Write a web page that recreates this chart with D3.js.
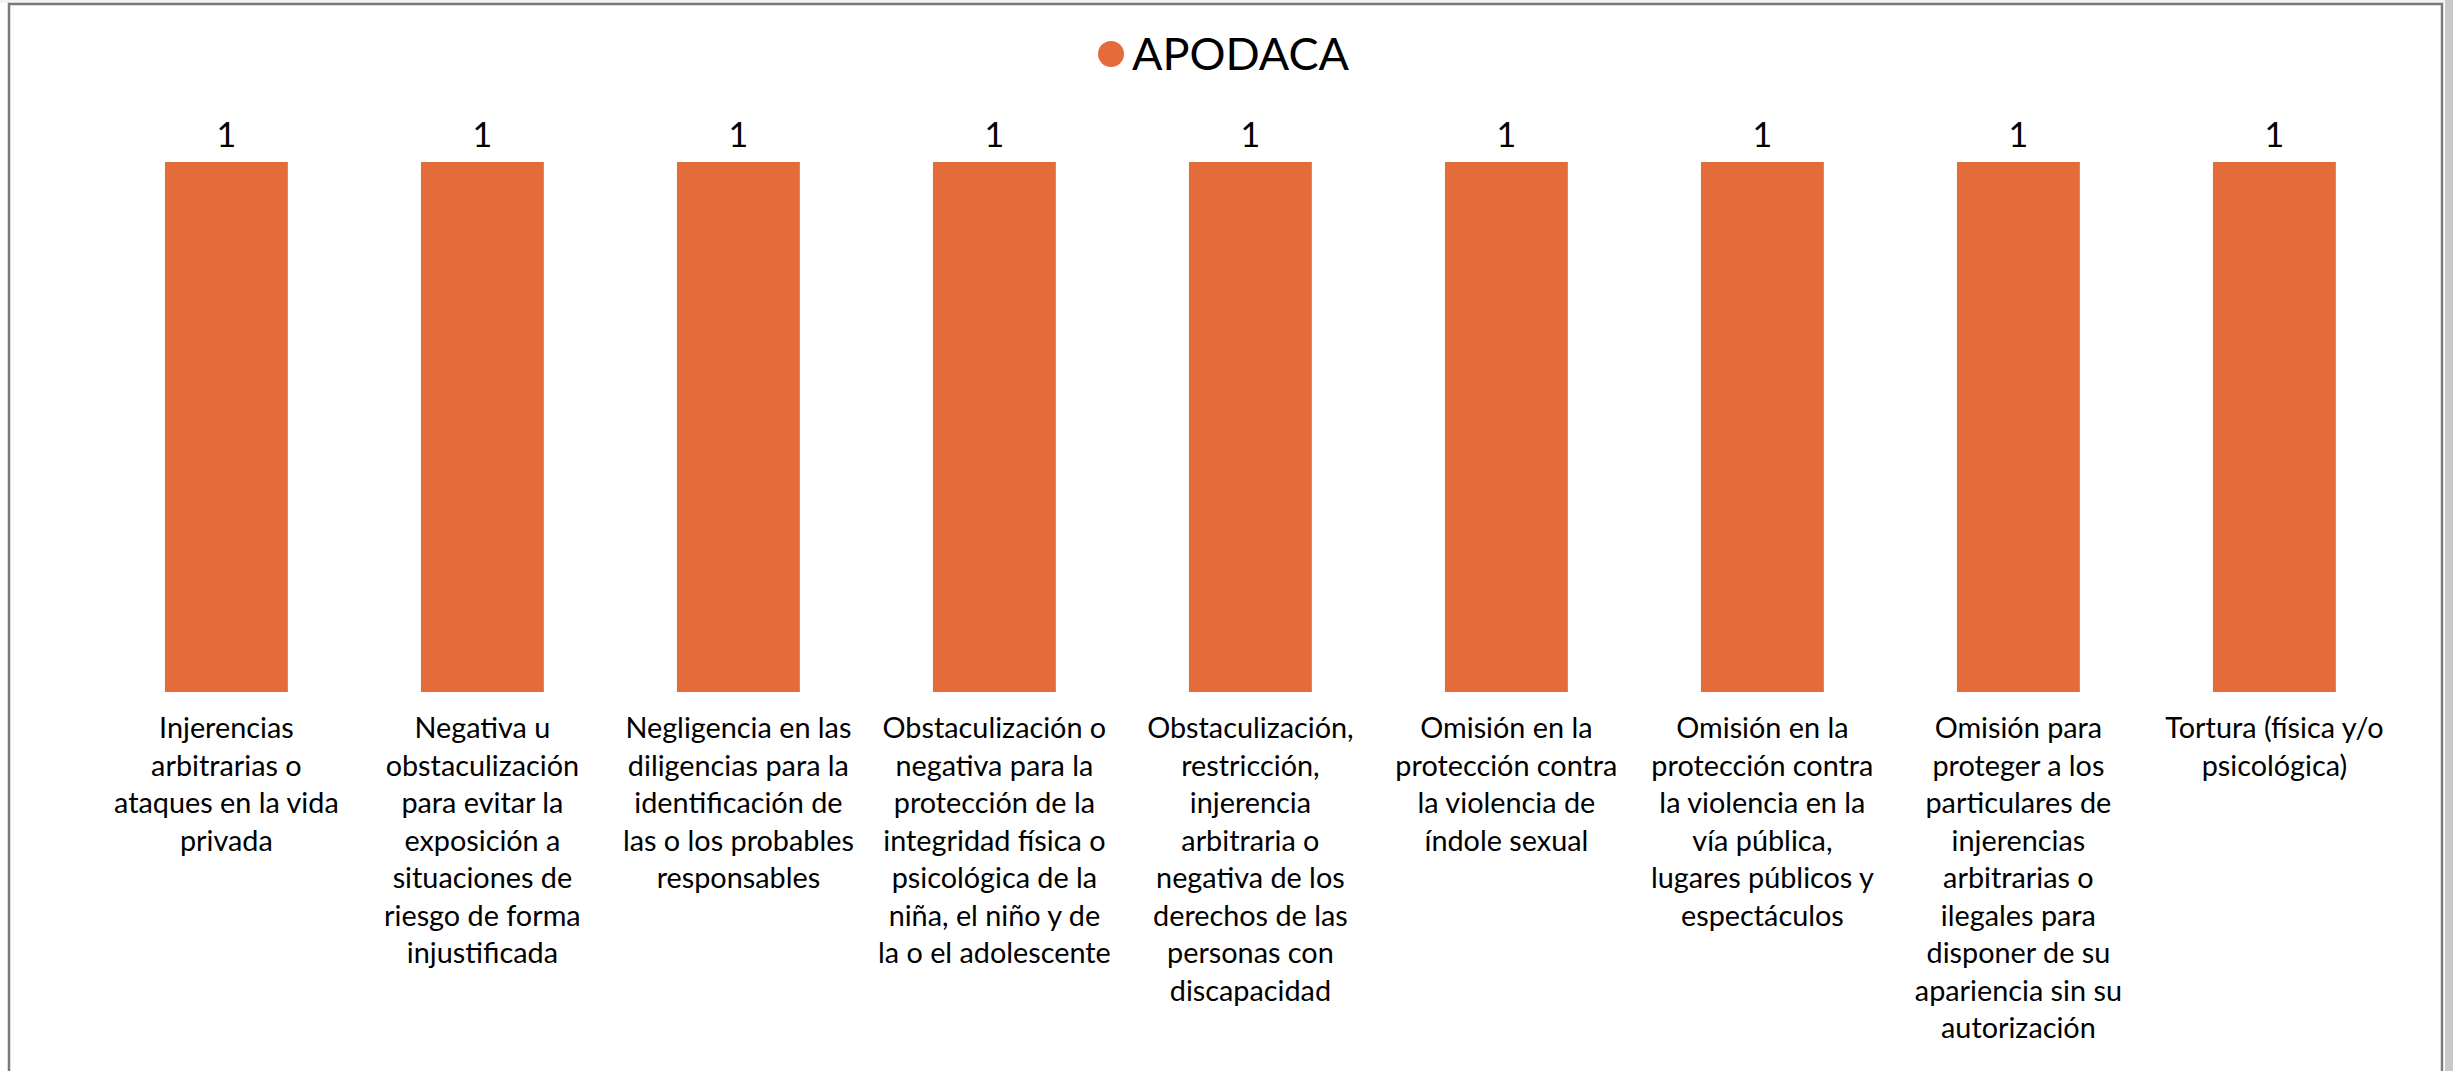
<!DOCTYPE html>
<html>
<head>
<meta charset="utf-8">
<script src="https://cdn.jsdelivr.net/npm/d3@7"></script>
<style>
  html, body { margin: 0; padding: 0; background: #fff; overflow: hidden; }
  svg { display: block; }
</style>
</head>
<body>
<svg id="chart" width="2453" height="1071"></svg>
<script>
const seriesName = "APODACA";
const categories = [
  "Injerencias\narbitrarias o\nataques en la vida\nprivada",
  "Negativa u\nobstaculización\npara evitar la\nexposición a\nsituaciones de\nriesgo de forma\ninjustificada",
  "Negligencia en las\ndiligencias para la\nidentificación de\nlas o los probables\nresponsables",
  "Obstaculización o\nnegativa para la\nprotección de la\nintegridad física o\npsicológica de la\nniña, el niño y de\nla o el adolescente",
  "Obstaculización,\nrestricción,\ninjerencia\narbitraria o\nnegativa de los\nderechos de las\npersonas con\ndiscapacidad",
  "Omisión en la\nprotección contra\nla violencia de\níndole sexual",
  "Omisión en la\nprotección contra\nla violencia en la\nvía pública,\nlugares públicos y\nespectáculos",
  "Omisión para\nproteger a los\nparticulares de\ninjerencias\narbitrarias o\nilegales para\ndisponer de su\napariencia sin su\nautorización",
  "Tortura (física y/o\npsicológica)"
];
const values = [1, 1, 1, 1, 1, 1, 1, 1, 1];
const barColor = "#E46C3A";

const svg = d3.select("#chart");
const W = 2453, H = 1071;
const font = "Lato, 'Open Sans', sans-serif";

// frame
svg.append("rect").attr("x", 2445).attr("y", 0).attr("width", 8).attr("height", H).attr("fill", "#c9c9c9");
svg.append("rect").attr("x", 0).attr("y", 0).attr("width", 2445).attr("height", 3).attr("fill", "#f3f3f3");
svg.append("rect").attr("x", 9).attr("y", 4).attr("width", 2433).attr("height", H + 20)
  .attr("fill", "#fff").attr("stroke", "#7a7a7a").attr("stroke-width", 2.5);

const x = d3.scaleBand().domain(d3.range(categories.length)).range([98.4, 2402.4]).paddingInner(0.52).paddingOuter(0.26);
const y = d3.scaleLinear().domain([0, 1]).range([692, 162]);

svg.append("g").selectAll("rect").data(values).join("rect")
  .attr("x", (d, i) => x(i))
  .attr("y", d => y(d))
  .attr("width", x.bandwidth())
  .attr("height", d => y(0) - y(d))
  .attr("fill", barColor);

svg.append("g").selectAll("text").data(values).join("text")
  .attr("x", (d, i) => x(i) + x.bandwidth() / 2)
  .attr("y", d => y(d) - 15)
  .attr("text-anchor", "middle")
  .attr("font-family", font).attr("font-size", 34)
  .attr("fill", "#000")
  .text(d => d);

const lab = svg.append("g").selectAll("text").data(categories).join("text")
  .attr("text-anchor", "middle")
  .attr("font-family", font).attr("font-size", 28.8)
  .attr("fill", "#000");
lab.each(function(c, i) {
  const t = d3.select(this);
  c.split("\n").forEach((line, k) => {
    t.append("tspan")
      .attr("x", x(i) + x.bandwidth() / 2)
      .attr("y", 738 + k * 37.5)
      .text(line);
  });
});

// legend / title
const lg = svg.append("g");
lg.append("circle").attr("cx", 1111).attr("cy", 54).attr("r", 13).attr("fill", barColor);
lg.append("text").attr("x", 1132).attr("y", 70)
  .attr("font-family", font).attr("font-size", 45)
  .attr("fill", "#000").text(seriesName);
</script>
</body>
</html>
